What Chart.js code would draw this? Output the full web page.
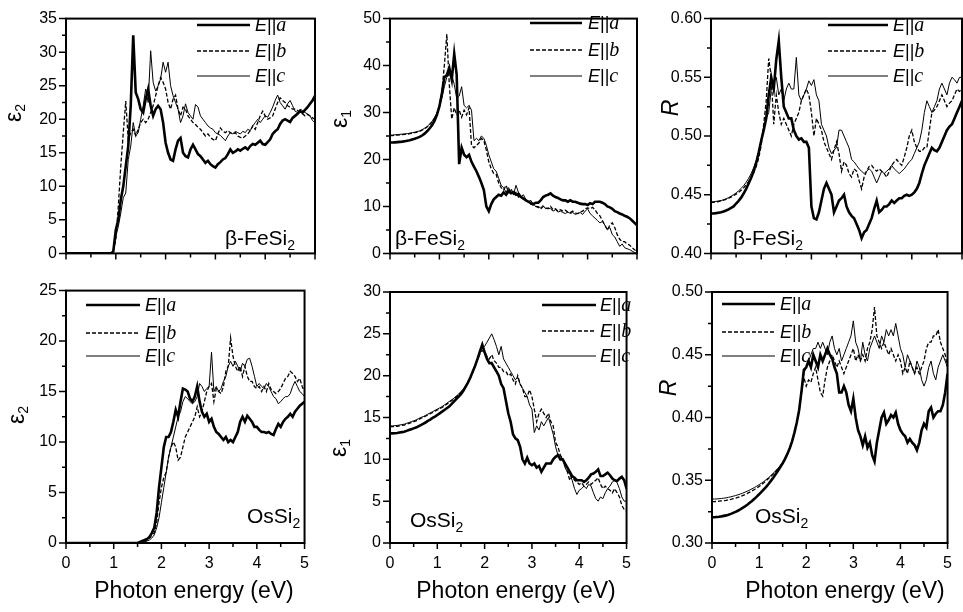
<!DOCTYPE html>
<html lang="en">
<head>
<meta charset="UTF-8">
<title>Optical spectra of beta-FeSi2 and OsSi2</title>
<script src="https://cdn.jsdelivr.net/npm/chart.js"></script>
<style>
  body { margin: 0; background: #fff; }
  #wrap { position: relative; width: 963px; height: 612px; overflow: hidden; background: #fff; }
  #wrap canvas { position: absolute; }
</style>
</head>
<body>
<div id="wrap"></div>
<script>
// photon energy grid (eV)
const energy = [
  0, 0.05, 0.1, 0.15, 0.2, 0.25, 0.3, 0.35, 0.4, 0.45,
  0.5, 0.55, 0.6, 0.65, 0.7, 0.75, 0.8, 0.85, 0.9, 0.95,
  1, 1.05, 1.1, 1.15, 1.2, 1.25, 1.3, 1.35, 1.4, 1.45,
  1.5, 1.55, 1.6, 1.65, 1.7, 1.75, 1.8, 1.85, 1.9, 1.95,
  2, 2.05, 2.1, 2.15, 2.2, 2.25, 2.3, 2.35, 2.4, 2.45,
  2.5, 2.55, 2.6, 2.65, 2.7, 2.75, 2.8, 2.85, 2.9, 2.95,
  3, 3.05, 3.1, 3.15, 3.2, 3.25, 3.3, 3.35, 3.4, 3.45,
  3.5, 3.55, 3.6, 3.65, 3.7, 3.75, 3.8, 3.85, 3.9, 3.95,
  4, 4.05, 4.1, 4.15, 4.2, 4.25, 4.3, 4.35, 4.4, 4.45,
  4.5, 4.55, 4.6, 4.65, 4.7, 4.75, 4.8, 4.85, 4.9, 4.95,
  5
];
const polarizations = ['a', 'b', 'c'];

// beta-FeSi2, eps2
const feEps2A = [
  0, 0, 0, 0, 0, 0, 0, 0, 0, 0,
  0, 0, 0, 0, 0, 0, 0, 0, 0, 0.3,
  3.5, 5, 8, 10, 13, 16, 22, 32.5, 24, 23,
  21.5, 21, 23, 24.5, 22, 20.5, 21.5, 22, 21.5, 19.5,
  16.5, 15, 14, 13.8, 15.5, 16.8, 17.2, 15, 14.5, 14.3,
  15.5, 16.2, 15.5, 14.8, 14.5, 14, 13.5, 13.8, 13.3, 13,
  12.8, 13.3, 13.6, 14, 14.2, 14.8, 15.5, 15, 15.2, 15.5,
  15.3, 15.6, 15.8, 15.5, 16, 16.3, 16.2, 16.5, 16.8, 16.3,
  16.2, 16.6, 17, 17.8, 18.2, 18.5, 19.3, 19.8, 20, 19.8,
  19.6, 20.2, 20.5, 20.8, 21.2, 21, 21.4, 21.8, 22.3, 22.8,
  23.5
];
const feEps2B = [
  0, 0, 0, 0, 0, 0, 0, 0, 0, 0,
  0, 0, 0, 0, 0, 0, 0, 0, 0, 0.5,
  2, 7, 13, 18, 22.7, 17, 18, 18.5, 17.5, 18.5,
  19.5, 20, 19.5, 20, 21, 22, 23.5, 25, 26.2, 25.5,
  24.5, 22.5, 21.5, 23, 23.6, 21.5, 20.5, 21.8, 21.5, 20.5,
  20, 19.5, 19.2, 18.8, 18.5, 18, 17.5, 17.8, 17.3, 17,
  16.8, 17.8, 18.7, 18.2, 18, 18.3, 18, 17.8, 18, 17.5,
  17.3, 17.2, 17.5, 17.8, 18.3, 19, 18.5, 19.5, 20.5, 21.2,
  20.5, 20, 20.2, 20.5, 21.5, 22.5, 23.2, 22.8, 22.5, 22,
  21.8, 21.5, 21.5, 21.3, 21, 20.8, 20.5, 20.7, 20.5, 20.2,
  20
];
const feEps2C = [
  0, 0, 0, 0, 0, 0, 0, 0, 0, 0,
  0, 0, 0, 0, 0, 0, 0, 0, 0, 0.3,
  2.5, 4, 6, 8.3, 9, 14, 16, 19.5, 17.5, 18,
  20, 22, 24.5, 22.5, 30.2, 25.5, 24.2, 25, 26, 28.5,
  27, 28.5, 25, 23.5, 22.5, 21.5, 19.5, 20.5, 22.3, 21,
  20.5, 20, 22.2, 21.8, 20.5, 20, 19.5, 19, 18.7, 18.5,
  18, 17.8, 17.6, 17.2, 16.8, 17.5, 18, 17.8, 18.2, 18,
  17.8, 18.2, 18, 18.5, 18.3, 19, 19.5, 20, 19.5, 20,
  20.5, 20.3, 21, 21.8, 22.8, 23.6, 22.5, 22, 21.5, 22.3,
  22.8, 22, 21.2, 21, 21.5, 21.3, 21, 20.8, 20.5, 19.8,
  19.5
];

// beta-FeSi2, eps1
const feEps1A = [
  23.6, 23.6, 23.65, 23.7, 23.75, 23.8, 23.9, 24, 24.1, 24.25,
  24.4, 24.6, 24.8, 25.1, 25.5, 26, 26.6, 27.3, 28.2, 29.5,
  31.3, 34, 37.5, 38, 39.5, 37, 42.5, 38, 19, 22.5,
  21, 20.5, 21, 19.5, 18.5, 17.5, 16.3, 15, 13.5, 10,
  9, 10.5, 11.5, 12, 12.5, 12.3, 13, 12.5, 13.3, 12.8,
  13, 12.5, 12.7, 12, 11.7, 11.3, 11, 10.7, 10.5, 10.8,
  10.8, 11.3, 12, 12.3, 12.5, 12.8, 12.3, 12, 11.8, 11.5,
  11.3, 11.3, 11, 11.3, 11, 11, 10.8, 10.6, 10.5, 10.5,
  10.3, 10.7, 10.5, 11, 11, 11, 10.8, 10.5, 10, 9.8,
  9.5, 9, 8.8, 8.5, 8.3, 8, 7.8, 7.5, 7, 6.5,
  6
];
const feEps1B = [
  25.1, 25.1, 25.15, 25.2, 25.25, 25.3, 25.35, 25.4, 25.5, 25.6,
  25.7, 25.85, 26, 26.25, 26.55, 26.9, 27.4, 28, 28.8, 29.8,
  31.5, 34.5, 40, 46.7, 36, 28.6, 31, 29.5, 30.5, 29,
  30.5, 29.5, 31, 23, 22.5, 23, 23.5, 24.5, 24, 22,
  19.5, 18, 17, 16.8, 15, 14, 13.5, 14.5, 13, 13.8,
  12.5, 13, 12, 12.3, 11.5, 11.3, 11, 10.5, 10.3, 10,
  9.8, 9.5, 10, 9.7, 9.5, 10, 9.3, 9.5, 9, 9.3,
  9, 9.2, 8.8, 8.7, 9, 8.6, 8.5, 8.8, 9, 9.5,
  9.7, 9.5, 9.8, 9.3, 8.5, 8, 7, 6, 5, 6,
  6.5, 5.5, 4, 3, 2.5, 2.5, 2, 1.8, 1.2, 0.8,
  0.3
];
const feEps1C = [
  25.2, 25.2, 25.25, 25.3, 25.35, 25.4, 25.45, 25.5, 25.6, 25.7,
  25.8, 25.95, 26.1, 26.35, 26.65, 27, 27.5, 28.1, 28.9, 29.9,
  31.2, 33, 35.5, 37.5, 38.3, 38, 36, 33, 33.5, 35.5,
  31.5, 31, 31.5, 30.5, 24, 24.5, 24, 25, 24.5, 23,
  21, 19.5, 18, 17.5, 16, 14.5, 14, 13, 14, 13,
  12.5, 14.5, 13, 12, 12.5, 11.5, 11, 11.3, 10.5, 10,
  10, 9.7, 10.2, 9.5, 9.7, 9.5, 9, 9.3, 8.8, 9,
  8.7, 8.5, 8.8, 8.5, 8.7, 8.3, 8.5, 8.7, 8.3, 9,
  9.5, 8.5, 8, 7.5, 7, 6.5, 6.8, 6, 5, 5.5,
  4, 3.5, 2.5, 1.5, 2, 1.2, 1, 0.8, 0.5, 0.2,
  0
];

// beta-FeSi2, reflectivity
const feReflA = [
  0.434, 0.434, 0.4343, 0.4347, 0.435, 0.4357, 0.4365, 0.4375, 0.4387, 0.44,
  0.4425, 0.4448, 0.4475, 0.451, 0.455, 0.4595, 0.4645, 0.47, 0.477, 0.486,
  0.496, 0.505, 0.515, 0.535, 0.55, 0.54, 0.565, 0.581, 0.55, 0.525,
  0.52, 0.515, 0.515, 0.505, 0.5, 0.497, 0.498, 0.495, 0.495, 0.49,
  0.44, 0.43, 0.429, 0.435, 0.445, 0.455, 0.46, 0.455, 0.45, 0.435,
  0.44, 0.445, 0.447, 0.45, 0.44, 0.435, 0.432, 0.43, 0.425, 0.42,
  0.413, 0.418, 0.42, 0.425, 0.43, 0.438, 0.445, 0.435, 0.437, 0.44,
  0.44, 0.442, 0.445, 0.443, 0.445, 0.447, 0.447, 0.449, 0.45, 0.449,
  0.45, 0.452, 0.455, 0.46, 0.468, 0.475, 0.48, 0.485, 0.49, 0.488,
  0.487, 0.49, 0.495, 0.5, 0.505, 0.508, 0.51, 0.515, 0.52, 0.525,
  0.53
];
const feReflB = [
  0.4435, 0.4435, 0.4438, 0.4442, 0.4447, 0.4453, 0.446, 0.447, 0.448, 0.4492,
  0.4505, 0.452, 0.4537, 0.4558, 0.4583, 0.4612, 0.4645, 0.4688, 0.474, 0.481,
  0.492, 0.51, 0.53, 0.566, 0.55, 0.51, 0.535, 0.52, 0.51, 0.515,
  0.51, 0.505, 0.5, 0.51, 0.515, 0.52, 0.53, 0.535, 0.54, 0.535,
  0.52, 0.5, 0.515, 0.51, 0.505, 0.495, 0.49, 0.485, 0.48, 0.488,
  0.495, 0.485, 0.47, 0.478, 0.475, 0.468, 0.465, 0.472, 0.47, 0.462,
  0.455, 0.465, 0.47, 0.474, 0.475, 0.472, 0.47, 0.472, 0.47, 0.468,
  0.465, 0.47, 0.475, 0.478, 0.48, 0.477, 0.475, 0.482, 0.49, 0.5,
  0.505, 0.495, 0.49, 0.487, 0.487, 0.49, 0.49, 0.505, 0.52, 0.522,
  0.525, 0.53, 0.535, 0.53, 0.525, 0.528, 0.53, 0.535, 0.54, 0.538,
  0.54
];
const feReflC = [
  0.444, 0.444, 0.4443, 0.4447, 0.445, 0.4457, 0.4465, 0.4475, 0.4487, 0.45,
  0.4515, 0.4533, 0.4553, 0.4577, 0.4605, 0.464, 0.468, 0.473, 0.479, 0.487,
  0.497, 0.506, 0.515, 0.52, 0.54, 0.545, 0.55, 0.535, 0.54, 0.53,
  0.54, 0.545, 0.54, 0.54, 0.567, 0.535, 0.53, 0.535, 0.54, 0.547,
  0.543, 0.548, 0.535, 0.53, 0.51, 0.505, 0.5, 0.49, 0.485, 0.488,
  0.49, 0.505, 0.505, 0.5, 0.495, 0.49, 0.48, 0.478, 0.475, 0.472,
  0.47, 0.468, 0.47, 0.472, 0.47, 0.465, 0.46, 0.465, 0.47, 0.468,
  0.47, 0.472, 0.475, 0.472, 0.47, 0.468, 0.47, 0.472, 0.475, 0.478,
  0.48, 0.485, 0.49, 0.495, 0.505, 0.52, 0.53, 0.525, 0.52, 0.525,
  0.53, 0.54, 0.545, 0.54, 0.535, 0.545, 0.55, 0.548, 0.545, 0.55,
  0.55
];

// OsSi2, eps2
const osEps2A = [
  0, 0, 0, 0, 0, 0, 0, 0, 0, 0,
  0, 0, 0, 0, 0, 0, 0, 0, 0, 0,
  0, 0, 0, 0, 0, 0, 0, 0, 0, 0,
  0, 0.1, 0.2, 0.3, 0.4, 0.6, 1, 1.5, 3, 5.5,
  7.5, 9.5, 10.5, 10.5, 11, 12, 13.2, 12.5, 14, 15.3,
  15.2, 15, 14.3, 14, 14.5, 15.5, 14, 13, 12.5, 12.8,
  12, 12.3, 11.5, 11, 10.8, 10.5, 10.2, 10.5, 10, 10.2,
  10, 10.5, 11, 12, 12.5, 12, 12.6, 12.3, 12, 11.5,
  11.5, 11.2, 11, 11, 10.9, 11, 10.8, 10.7, 11.3, 11.8,
  11.5, 12, 12.3, 12.5, 12.8, 12.5, 13, 13.3, 13.6, 13.8,
  14
];
const osEps2B = [
  0, 0, 0, 0, 0, 0, 0, 0, 0, 0,
  0, 0, 0, 0, 0, 0, 0, 0, 0, 0,
  0, 0, 0, 0, 0, 0, 0, 0, 0, 0,
  0, 0, 0.1, 0.2, 0.3, 0.5, 0.8, 1, 2, 4,
  5.5, 6.5, 7, 8.5, 9.5, 10, 9.5, 8.2, 8.5, 9.5,
  10.5, 11, 11.5, 12, 12.5, 13.5, 12.5, 13, 14, 15,
  15.5, 15.8, 14, 15.3, 15, 14.8, 15.5, 17, 17.5, 20.3,
  18.5, 17.5, 17, 17.5, 16.5, 17.5, 16.5, 16, 16, 15.5,
  15.3, 15.5, 15, 15.5, 15, 15.8, 15.2, 15, 14.8, 15,
  15.3, 15.8, 16.3, 16.5, 17, 16.8, 16.5, 16, 16.3, 15.5,
  15
];
const osEps2C = [
  0, 0, 0, 0, 0, 0, 0, 0, 0, 0,
  0, 0, 0, 0, 0, 0, 0, 0, 0, 0,
  0, 0, 0, 0, 0, 0, 0, 0, 0, 0,
  0, 0, 0, 0.1, 0.2, 0.3, 0.5, 0.8, 1.5, 2.5,
  4, 5.5, 7, 8.5, 9.5, 10.5, 11.5, 12.5, 13, 14,
  14.5, 14.3, 14, 13.8, 14, 14.5, 15.8, 15.5, 15, 15.3,
  15.5, 18.9, 15, 15.5, 15, 15.3, 16, 16.5, 17.5, 18,
  17.5, 18, 17.5, 17, 17.8, 17.5, 18.2, 18.3, 17.5, 16.5,
  15.5, 15.8, 15.5, 15.3, 15.8, 15.5, 15, 14.5, 14.3, 13.8,
  14, 14.3, 14.5, 14.5, 14.8, 15.5, 16, 15.5, 15, 14.8,
  14.5
];

// OsSi2, eps1
const osEps1A = [
  13.1, 13.1, 13.12, 13.15, 13.2, 13.25, 13.3, 13.4, 13.5, 13.6,
  13.7, 13.8, 13.95, 14.1, 14.25, 14.4, 14.6, 14.75, 14.95, 15.1,
  15.3, 15.5, 15.7, 15.9, 16.1, 16.3, 16.6, 16.9, 17.2, 17.5,
  17.8, 18.2, 18.7, 19.2, 19.8, 20.5, 21.2, 22, 22.9, 23.7,
  22.8, 22, 21.5, 21.5, 21, 20.5, 20, 19, 18.5, 17,
  15.5, 14.5, 13, 12.5, 12.3, 11.5, 10, 9.5, 10.2, 9.5,
  9.3, 9.5, 9, 9.2, 8.5, 9, 9.5, 9.5, 9.5, 10,
  10.3, 10.5, 10, 10, 9.5, 9, 8.5, 8, 7.8, 7.5,
  7.5, 7.5, 7.3, 7.5, 7.8, 8.2, 8.3, 8.5, 8.8, 8,
  8, 8.2, 8.4, 8.1, 7.7, 7.5, 7.4, 7.7, 7.9, 7.5,
  6.5
];
const osEps1B = [
  13.9, 13.9, 13.92, 13.95, 14, 14.05, 14.1, 14.2, 14.3, 14.4,
  14.5, 14.6, 14.75, 14.9, 15, 15.15, 15.3, 15.45, 15.6, 15.75,
  15.9, 16.05, 16.2, 16.4, 16.6, 16.8, 17, 17.2, 17.45, 17.7,
  18, 18.3, 18.7, 19.2, 19.7, 20.4, 21.1, 21.9, 22.6, 23,
  22.8, 22.3, 22, 22.5, 21.8, 21.5, 21, 21, 20.5, 20.5,
  20, 20.2, 19.5, 19, 20, 19, 18.5, 17.5, 17.5, 18.3,
  17.5, 16, 14.5, 15.5, 16, 15.5, 15, 15.5, 14.5, 14,
  12, 11.5, 10.5, 10, 9.5, 8.5, 7.5, 8, 7.5, 7.3,
  7, 7.2, 6.8, 7, 7.3, 7, 7.3, 7.5, 7.8, 7,
  6.5, 6.8, 6.5, 6.3, 6, 6.5, 6, 5.5, 4.5, 4,
  3.8
];
const osEps1C = [
  14, 14, 14.02, 14.05, 14.1, 14.15, 14.2, 14.3, 14.4, 14.5,
  14.6, 14.7, 14.85, 15, 15.1, 15.25, 15.4, 15.55, 15.7, 15.85,
  16, 16.15, 16.3, 16.5, 16.7, 16.9, 17.1, 17.3, 17.55, 17.8,
  18.1, 18.4, 18.8, 19.3, 19.8, 20.5, 21.2, 22, 22.8, 23.3,
  23.5, 24, 24.5, 25, 24.3, 23.5, 22.5, 23.5, 22, 21.5,
  21, 20.5, 20, 19.5, 19.8, 19, 18.5, 18, 17.5, 16.5,
  16, 13.2, 14, 13.5, 14.5, 14, 14.5, 15, 14, 13,
  11.5, 10.5, 10.5, 10, 9, 8.5, 8.3, 7.5, 6.5, 5.8,
  6.3, 6.5, 6.8, 6.5, 7, 6.8, 6, 5.3, 5, 5.5,
  5.3, 6, 6.5, 6.8, 7.3, 7.5, 7.2, 6.5, 5.5, 5,
  5
];

// OsSi2, reflectivity
const osReflA = [
  0.3205, 0.3205, 0.3207, 0.3209, 0.3212, 0.3216, 0.322, 0.3225, 0.3232, 0.324,
  0.3248, 0.3257, 0.3268, 0.328, 0.3292, 0.3305, 0.332, 0.3335, 0.3352, 0.337,
  0.3388, 0.3408, 0.3428, 0.3448, 0.347, 0.3495, 0.352, 0.3547, 0.3575, 0.3605,
  0.3635, 0.367, 0.371, 0.3755, 0.381, 0.388, 0.396, 0.406, 0.421, 0.438,
  0.44, 0.445, 0.44, 0.45, 0.445, 0.44, 0.45, 0.445, 0.45, 0.455,
  0.45, 0.447, 0.44, 0.435, 0.42, 0.42, 0.425, 0.42, 0.41, 0.405,
  0.415, 0.4, 0.39, 0.385, 0.378, 0.385, 0.376, 0.38, 0.37, 0.365,
  0.38, 0.39, 0.4, 0.404, 0.395, 0.398, 0.402, 0.4, 0.404, 0.395,
  0.39, 0.387, 0.385, 0.38, 0.383, 0.38, 0.378, 0.374, 0.38, 0.39,
  0.395, 0.392, 0.405, 0.408, 0.4, 0.403, 0.405, 0.405, 0.41, 0.42,
  0.435
];
const osReflB = [
  0.333, 0.333, 0.3331, 0.3333, 0.3335, 0.3337, 0.334, 0.3344, 0.3348, 0.3353,
  0.3358, 0.3364, 0.337, 0.3378, 0.3386, 0.3395, 0.3405, 0.3415, 0.3426, 0.3438,
  0.3451, 0.3465, 0.348, 0.3496, 0.3513, 0.3531, 0.355, 0.357, 0.3591, 0.3614,
  0.3638, 0.367, 0.371, 0.3755, 0.381, 0.388, 0.396, 0.405, 0.42, 0.432,
  0.425, 0.43, 0.428, 0.435, 0.44, 0.43, 0.42, 0.417, 0.43, 0.44,
  0.445, 0.45, 0.445, 0.44, 0.445, 0.44, 0.435, 0.44, 0.445, 0.45,
  0.455, 0.445, 0.45, 0.445, 0.45, 0.445, 0.455, 0.46, 0.47, 0.488,
  0.465, 0.46, 0.455, 0.46, 0.455, 0.45, 0.455, 0.45, 0.445, 0.45,
  0.445, 0.435, 0.44, 0.435, 0.445, 0.44, 0.435, 0.44, 0.435, 0.44,
  0.445, 0.455, 0.46, 0.46, 0.465, 0.465, 0.47, 0.46, 0.455, 0.45,
  0.44
];
const osReflC = [
  0.335, 0.335, 0.3351, 0.3353, 0.3355, 0.3357, 0.336, 0.3364, 0.3368, 0.3373,
  0.3378, 0.3384, 0.339, 0.3397, 0.3405, 0.3413, 0.3422, 0.3432, 0.3442, 0.3453,
  0.3465, 0.3477, 0.349, 0.3505, 0.352, 0.3537, 0.3555, 0.3575, 0.3595, 0.3617,
  0.364, 0.3672, 0.371, 0.3755, 0.381, 0.388, 0.396, 0.405, 0.42, 0.435,
  0.44, 0.445, 0.45, 0.455, 0.455, 0.46, 0.455, 0.46, 0.455, 0.45,
  0.46, 0.465, 0.455, 0.45, 0.455, 0.445, 0.45, 0.455, 0.46, 0.465,
  0.477, 0.46, 0.455, 0.445, 0.46, 0.45, 0.445, 0.455, 0.46, 0.465,
  0.46, 0.455, 0.465, 0.46, 0.47, 0.465, 0.47, 0.465, 0.475, 0.465,
  0.455, 0.45, 0.44, 0.45, 0.445, 0.44, 0.435, 0.445, 0.44, 0.43,
  0.425, 0.43, 0.44, 0.445, 0.435, 0.43, 0.44, 0.445, 0.45, 0.445,
  0.44
];

const SANS = '"Liberation Sans", Arial, Helvetica, sans-serif';
const SERIF = '"Liberation Serif", "Times New Roman", serif';

// E||a thick, E||b dashed, E||c thin
const lineStyles = [
  { width: 2.6, dash: [] },
  { width: 1.3, dash: [4, 2] },
  { width: 1.0, dash: [] }
];

// page = [left, top, width, height] of each canvas; text positions are page pixels
const panels = [
  { page: [0, 0, 320, 272], yW: 66, pt: 13, pr: 5, xH: 9,
    yMin: 0, yMax: 35, yStep: 5, yMinor: 2.5, dec: 0,
    series: [feEps2A, feEps2B, feEps2C],
    yTitle: { text: 'ε', sub: '2', x: 17, y: 113 },
    legend: { x0: 197, x1: 250, tx: 255, ys: [25, 51, 76] },
    tag: { text: 'β-FeSi', x: 225, y: 245 } },
  { page: [320, 0, 322, 272], yW: 70, pt: 13, pr: 5, xH: 9,
    yMin: 0, yMax: 50, yStep: 10, yMinor: 5, dec: 0,
    series: [feEps1A, feEps1B, feEps1C],
    yTitle: { text: 'ε', sub: '1', x: 343, y: 119 },
    legend: { x0: 530, x1: 582, tx: 588, ys: [23, 50, 76] },
    tag: { text: 'β-FeSi', x: 395, y: 245 } },
  { page: [642, 0, 321, 272], yW: 69, pt: 13, pr: 1, xH: 13,
    yMin: 0.4, yMax: 0.6, yStep: 0.05, yMinor: 0.025, dec: 2,
    series: [feReflA, feReflB, feReflC],
    yTitle: { text: 'R', italic: true, x: 670, y: 108 },
    legend: { x0: 828, x1: 888, tx: 893, ys: [25, 51, 76] },
    tag: { text: 'β-FeSi', x: 733, y: 245 } },
  { page: [0, 272, 320, 340], yW: 66, pt: 15, pr: 5, xH: 69, xLabels: true,
    yMin: 0, yMax: 25, yStep: 5, yMinor: 2.5, dec: 0,
    series: [osEps2A, osEps2B, osEps2C],
    yTitle: { text: 'ε', sub: '2', x: 20, y: 415 },
    legend: { x0: 86, x1: 140, tx: 145, ys: [305, 333, 356] },
    tag: { text: 'OsSi', x: 247, y: 523 },
    xTitle: { x: 194, y: 598 } },
  { page: [320, 272, 322, 340], yW: 70, pt: 20, pr: 3, xH: 69, xLabels: true,
    yMin: 0, yMax: 30, yStep: 5, yMinor: 2.5, dec: 0,
    series: [osEps1A, osEps1B, osEps1C],
    yTitle: { text: 'ε', sub: '1', x: 342, y: 448 },
    legend: { x0: 542, x1: 596, tx: 600, ys: [305, 331, 356] },
    tag: { text: 'OsSi', x: 410, y: 527 },
    xTitle: { x: 516, y: 598 } },
  { page: [642, 272, 321, 340], yW: 70, pt: 20, pr: 1, xH: 69, xLabels: true,
    yMin: 0.3, yMax: 0.5, yStep: 0.05, yMinor: 0.025, dec: 2,
    series: [osReflA, osReflB, osReflC],
    yTitle: { text: 'R', italic: true, x: 668, y: 388 },
    legend: { x0: 722, x1: 775, tx: 780, ys: [304, 332, 356] },
    tag: { text: 'OsSi', x: 755, y: 523 },
    xTitle: { x: 845, y: 598 } }
];

// draw a run of text pieces with their own fonts, left or centred
function drawRich(ctx, parts, x, y, center) {
  let w = 0;
  parts.forEach(p => { ctx.font = p.font; p.w = ctx.measureText(p.text).width; w += p.w; });
  let cx = center ? x - w / 2 : x;
  parts.forEach(p => {
    ctx.font = p.font;
    ctx.fillText(p.text, cx, y + (p.dy || 0));
    cx += p.w;
  });
}

const decor = {
  id: 'decor',
  afterDraw(chart, args, p) {
    const { ctx, chartArea: a, scales: { x, y } } = chart;
    const ox = p.page[0], oy = p.page[1];
    ctx.save();
    ctx.strokeStyle = '#000';
    ctx.fillStyle = '#000';
    ctx.textBaseline = 'alphabetic';
    ctx.textAlign = 'left';

    // tick marks, pointing out
    ctx.lineWidth = 1.5;
    ctx.beginPath();
    for (let k = 0; k <= 10; k++) {
      const px = x.getPixelForValue(k * 0.5);
      ctx.moveTo(px, a.bottom);
      ctx.lineTo(px, a.bottom + (k % 2 === 0 ? 6 : 4));
    }
    const per = Math.round(p.yStep / p.yMinor);
    const n = Math.round((p.yMax - p.yMin) / p.yMinor);
    for (let k = 0; k <= n; k++) {
      const py = y.getPixelForValue(p.yMin + k * p.yMinor);
      ctx.moveTo(a.left, py);
      ctx.lineTo(a.left - (k % per === 0 ? 7 : 4), py);
    }
    ctx.stroke();

    // frame
    ctx.lineWidth = 2;
    ctx.strokeRect(a.left, a.top, a.right - a.left, a.bottom - a.top);

    // legend
    const lg = p.legend;
    polarizations.forEach((name, i) => {
      const ly = lg.ys[i] - oy;
      ctx.lineWidth = lineStyles[i].width;
      ctx.setLineDash(lineStyles[i].dash);
      ctx.beginPath();
      ctx.moveTo(lg.x0 - ox, ly);
      ctx.lineTo(lg.x1 - ox, ly);
      ctx.stroke();
      ctx.setLineDash([]);
      drawRich(ctx, [
        { text: 'E', font: 'italic 18px ' + SANS },
        { text: '||', font: '18px ' + SANS },
        { text: name, font: 'italic 20px ' + SERIF }
      ], lg.tx - ox, ly + 6, false);
    });

    // material tag
    drawRich(ctx, [
      { text: p.tag.text, font: '21px ' + SANS },
      { text: '2', font: '14px ' + SANS, dy: 5 }
    ], p.tag.x - ox, p.tag.y - oy, false);

    // y title, rotated so it reads upwards
    ctx.save();
    ctx.translate(p.yTitle.x - ox, p.yTitle.y - oy);
    ctx.rotate(-Math.PI / 2);
    if (p.yTitle.italic) {
      drawRich(ctx, [{ text: p.yTitle.text, font: 'italic 23px ' + SANS }], 0, 8, true);
    } else {
      drawRich(ctx, [
        { text: p.yTitle.text, font: '23px ' + SANS },
        { text: p.yTitle.sub, font: '14px ' + SANS, dy: 4 }
      ], 0, 4, true);
    }
    ctx.restore();

    // x title
    if (p.xTitle) {
      drawRich(ctx, [{ text: 'Photon energy (eV)', font: '23px ' + SANS }],
        p.xTitle.x - ox, p.xTitle.y - oy, true);
    }
    ctx.restore();
  }
};

const wrap = document.getElementById('wrap');

panels.forEach(p => {
  const cv = document.createElement('canvas');
  cv.width = p.page[2];
  cv.height = p.page[3];
  cv.style.left = p.page[0] + 'px';
  cv.style.top = p.page[1] + 'px';
  cv.style.width = p.page[2] + 'px';
  cv.style.height = p.page[3] + 'px';
  wrap.appendChild(cv);

  const datasets = p.series.map((vals, i) => ({
    label: 'E||' + polarizations[i],
    data: energy.map((e, j) => ({ x: e, y: vals[j] })),
    borderColor: '#000',
    borderWidth: lineStyles[i].width,
    borderDash: lineStyles[i].dash,
    pointRadius: 0,
    tension: 0,
    fill: false
  })).reverse();

  new Chart(cv, {
    type: 'line',
    data: { datasets: datasets },
    options: {
      responsive: false,
      animation: false,
      devicePixelRatio: 1,
      layout: { autoPadding: false, padding: { left: 0, top: p.pt, right: p.pr, bottom: 0 } },
      plugins: { legend: { display: false }, tooltip: { enabled: false }, decor: p },
      scales: {
        x: {
          type: 'linear', min: 0, max: 5,
          grid: { display: false, drawTicks: false },
          border: { display: false },
          ticks: {
            display: !!p.xLabels, stepSize: 1, maxRotation: 0, padding: 11,
            color: '#000', font: { family: SANS, size: 16 },
            callback: v => String(v)
          },
          afterFit: s => { s.height = p.xH; }
        },
        y: {
          min: p.yMin, max: p.yMax,
          grid: { display: false, drawTicks: false },
          border: { display: false },
          ticks: {
            stepSize: p.yStep, padding: 9,
            color: '#000', font: { family: SANS, size: 16 },
            callback: v => Number(v).toFixed(p.dec)
          },
          afterFit: s => { s.height = s.height; s.width = p.yW; }
        }
      }
    },
    plugins: [decor]
  });
});
</script>
</body>
</html>
